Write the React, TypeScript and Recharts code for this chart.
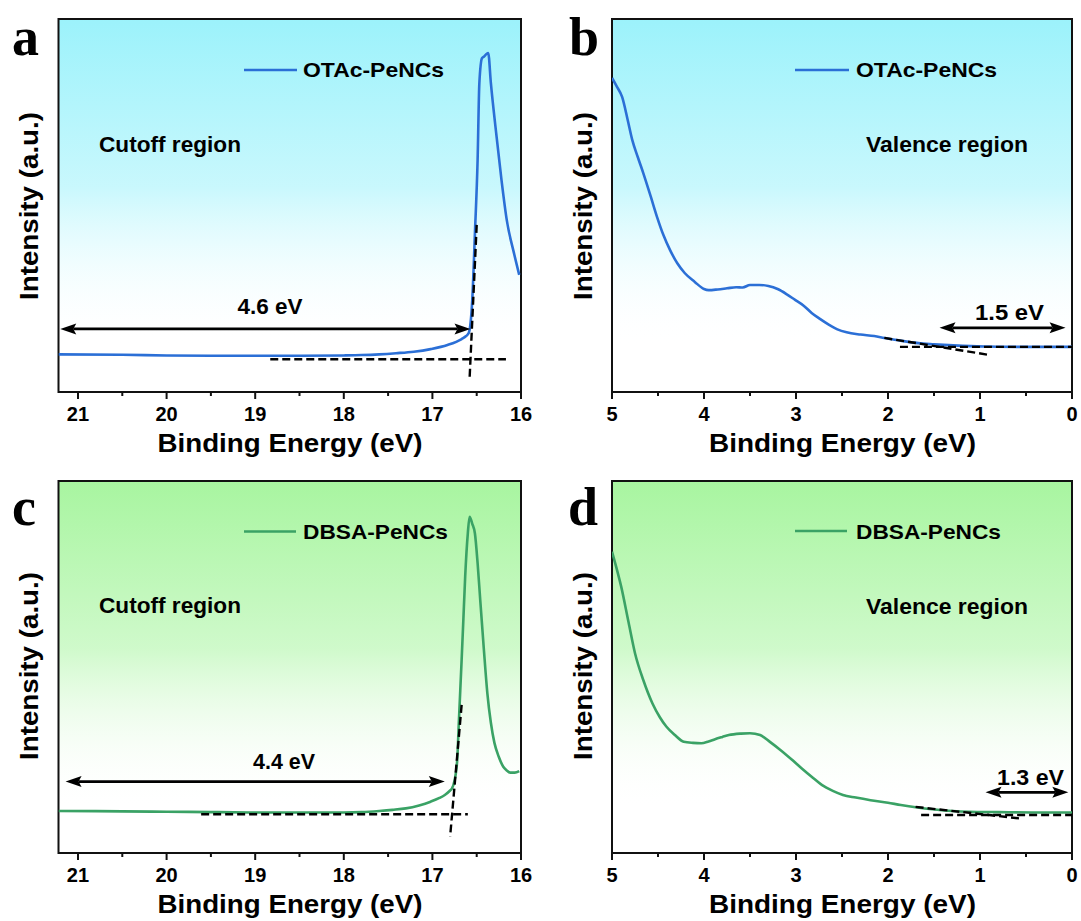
import React from 'react';
import { LineChart, Line, XAxis, YAxis, ReferenceArea, ReferenceLine } from 'recharts';

const BLUE = '#2b6fd6';
const GREEN = '#3aa265';
const CYAN_TOP = '#9cf2fb';
const GREEN_TOP = '#a8f5a0';
const SANS = '"Liberation Sans", Arial, Helvetica, sans-serif';
const SERIF = '"Liberation Serif", "Times New Roman", serif';

// ---------- axis ticks ----------
const cutoffTicks = [21, 20.5, 20, 19.5, 19, 18.5, 18, 17.5, 17, 16.5, 16];
const valenceTicks = [5, 4.5, 4, 3.5, 3, 2.5, 2, 1.5, 1, 0.5, 0];
const cutoffDomain = [16, 21.22];
const valenceDomain = [0, 5];

// ---------- panel a : OTAc-PeNCs cutoff ----------
const energyA = [21.22, 20.5, 20.0, 19.5, 19.0, 18.5, 18.0, 17.8, 17.6, 17.41, 17.21, 17.02, 16.83, 16.67, 16.62, 16.59, 16.55, 16.52, 16.49, 16.47, 16.44, 16.42, 16.39, 16.37, 16.34, 16.28, 16.22, 16.16, 16.08, 16.02];
const intensityA = [10.1, 10.0, 9.8, 9.7, 9.7, 9.7, 9.8, 9.9, 10.1, 10.4, 10.8, 11.5, 12.6, 14.2, 15.0, 15.8, 24.7, 42.6, 62.0, 82.8, 89.5, 89.9, 90.6, 90.9, 82.8, 69.4, 56.8, 46.0, 37.3, 31.4];

// ---------- panel b : OTAc-PeNCs valence ----------
const energyB = [5.0, 4.95, 4.89, 4.83, 4.78, 4.72, 4.66, 4.58, 4.51, 4.44, 4.37, 4.29, 4.21, 4.1, 4.0, 3.95, 3.85, 3.75, 3.65, 3.58, 3.5, 3.4, 3.3, 3.2, 3.1, 3.01, 2.92, 2.83, 2.74, 2.64, 2.55, 2.45, 2.3, 2.15, 2.04, 1.85, 1.67, 1.5, 1.29, 1.1, 0.9, 0.5, 0.0];
const intensityB = [84.2, 82.0, 79.1, 73.0, 67.6, 63.0, 58.7, 52.5, 46.9, 42.0, 38.1, 34.5, 31.9, 29.5, 27.6, 27.3, 27.5, 27.8, 28.1, 28.0, 28.7, 28.7, 28.4, 27.6, 26.2, 24.7, 23.2, 21.2, 19.6, 18.0, 16.8, 16.0, 15.4, 15.0, 14.5, 13.7, 13.1, 12.8, 12.5, 12.3, 12.2, 12.1, 12.1];

// ---------- panel c : DBSA-PeNCs cutoff ----------
const energyC = [21.22, 20.5, 20.0, 19.5, 19.0, 18.5, 18.0, 17.8, 17.6, 17.45, 17.3, 17.15, 17.02, 16.92, 16.86, 16.8, 16.78, 16.75, 16.72, 16.7, 16.67, 16.65, 16.63, 16.6, 16.58, 16.55, 16.52, 16.49, 16.46, 16.42, 16.38, 16.34, 16.3, 16.25, 16.2, 16.16, 16.12, 16.07, 16.02];
const intensityC = [11.3, 11.2, 11.1, 11.0, 10.9, 10.9, 10.9, 11.0, 11.3, 11.6, 12.0, 12.8, 13.8, 14.8, 15.6, 16.8, 17.3, 19.5, 25.0, 36.0, 51.9, 63.0, 74.3, 86.0, 90.4, 88.5, 85.9, 78.0, 68.0, 55.0, 43.0, 35.0, 29.6, 25.8, 23.2, 22.2, 21.6, 21.6, 22.0];

// ---------- panel d : DBSA-PeNCs valence ----------
const energyD = [5.0, 4.95, 4.9, 4.82, 4.75, 4.66, 4.56, 4.48, 4.41, 4.32, 4.22, 4.12, 4.03, 3.95, 3.88, 3.8, 3.73, 3.6, 3.5, 3.39, 3.28, 3.17, 3.05, 2.94, 2.83, 2.72, 2.6, 2.49, 2.35, 2.19, 2.0, 1.86, 1.7, 1.49, 1.3, 1.12, 0.8, 0.4, 0.0];
const intensityD = [81.0, 76.5, 71.6, 62.0, 53.7, 46.5, 40.2, 36.5, 34.0, 31.8, 29.9, 29.6, 29.5, 30.0, 30.6, 31.2, 31.7, 32.1, 32.2, 31.7, 29.8, 27.7, 25.2, 22.8, 20.5, 18.3, 16.7, 15.6, 14.9, 14.2, 13.5, 12.9, 12.3, 11.7, 11.3, 11.1, 11.0, 10.9, 10.9];

// ---------- guide lines (energy, intensity pairs) ----------
const baselineA = [[18.83, 8.8], [16.17, 8.8]];
const tangentA = [[16.5, 44.8], [16.58, 3.7]];
const arrowA = [[21.2, 16.9], [16.57, 16.9]];

const baselineB = [[1.87, 12.1], [0.0, 12.1]];
const tangentB = [[2.04, 14.5], [0.89, 9.9]];
const arrowB = [[1.44, 17.2], [0.07, 17.2]];

const baselineC = [[19.61, 10.4], [16.6, 10.4]];
const tangentC = [[16.67, 39.8], [16.8, 4.4]];
const arrowC = [[21.14, 19.2], [16.86, 19.2]];

const baselineD = [[1.64, 10.2], [0.0, 10.2]];
const tangentD = [[1.7, 12.4], [0.57, 9.3]];
const arrowD = [[0.94, 16.3], [0.04, 16.3]];

const toData = (xs: number[], ys: number[]) => xs.map((e, i) => ({ e, v: ys[i] }));
const seg = (p: number[][]) => [{ x: p[0][0], y: p[0][1] }, { x: p[1][0], y: p[1][1] }];

const TickMark = (props: any) => {
  const { x, y, payload } = props;
  const v = payload.value;
  const major = Math.abs(v - Math.round(v)) < 1e-6;
  return (
    <g>
      <line x1={x} x2={x} y1={y} y2={y + (major ? 7 : 4)} stroke="#111" strokeWidth={2} />
      {major && (
        <text x={x} y={y + 29} textAnchor="middle" fontSize={20} fontWeight="bold" fontFamily={SANS} fill="#000">
          {v}
        </text>
      )}
    </g>
  );
};

const DoubleArrow = (props: any) => {
  const { x1, y1, x2, y2 } = props;
  const head = 16;
  const hw = 5.5;
  const l = Math.min(x1, x2);
  const r = Math.max(x1, x2);
  const y = (y1 + y2) / 2;
  return (
    <g>
      <line x1={l + head - 3} y1={y} x2={r - head + 3} y2={y} stroke="#000" strokeWidth={2.8} />
      <polygon points={`${l},${y} ${l + head},${y - hw} ${l + head - 3},${y} ${l + head},${y + hw}`} fill="#000" />
      <polygon points={`${r},${y} ${r - head},${y - hw} ${r - head + 3},${y} ${r - head},${y + hw}`} fill="#000" />
    </g>
  );
};

type PanelProps = {
  left: number;
  top: number;
  width: number;
  height: number;
  margin: { top: number; right: number; bottom: number; left: number };
  domain: number[];
  ticks: number[];
  data: { e: number; v: number }[];
  color: string;
  gradId: string;
  gradTop: string;
  baseline: number[][];
  tangent: number[][];
  arrow: number[][];
  name: string;
};

function Panel(p: PanelProps) {
  return (
    <div style={{ position: 'absolute', left: p.left, top: p.top, width: p.width, height: p.height }}>
      <LineChart width={p.width} height={p.height} data={p.data} margin={p.margin}>
        <defs>
          <linearGradient id={p.gradId} x1="0" y1="0" x2="0" y2="1">
            <stop offset="0%" stopColor={p.gradTop} />
            <stop offset="45%" stopColor={p.gradTop} stopOpacity={0.55} />
            <stop offset="88%" stopColor="#ffffff" stopOpacity={0} />
          </linearGradient>
        </defs>
        <XAxis
          dataKey="e"
          type="number"
          domain={p.domain}
          reversed
          allowDataOverflow
          ticks={p.ticks}
          interval={0}
          tickSize={0}
          tickMargin={0}
          tickLine={false}
          axisLine={{ stroke: '#111', strokeWidth: 2 }}
          height={30}
          tick={<TickMark />}
        />
        <YAxis type="number" domain={[0, 100]} hide allowDataOverflow />
        <ReferenceArea
          x1={p.domain[0]}
          x2={p.domain[1]}
          y1={0}
          y2={100}
          fill={`url(#${p.gradId})`}
          fillOpacity={1}
          stroke="#111"
          strokeWidth={2}
          ifOverflow="visible"
        />
        <Line
          dataKey="v"
          name={p.name}
          type="monotone"
          stroke={p.color}
          strokeWidth={2.6}
          dot={false}
          activeDot={false}
          isAnimationActive={false}
        />
        <ReferenceLine segment={seg(p.baseline)} stroke="#000" strokeWidth={2.4} strokeDasharray="8 4" ifOverflow="visible" />
        <ReferenceLine segment={seg(p.tangent)} stroke="#000" strokeWidth={2.4} strokeDasharray="8 4" ifOverflow="visible" />
        <ReferenceLine segment={seg(p.arrow)} ifOverflow="visible" shape={DoubleArrow} />
      </LineChart>
    </div>
  );
}

const txt = { fontFamily: SANS, fontWeight: 'bold' as const, fill: '#000', lengthAdjust: 'spacingAndGlyphs' as const };

export default function App() {
  return (
    <div style={{ position: 'fixed', left: 0, top: 0, width: 1081, height: 921, background: '#ffffff', overflow: 'hidden' }}>
      <Panel
        left={0} top={0} width={540} height={460}
        margin={{ top: 19, right: 19, bottom: 38, left: 58.5 }}
        domain={cutoffDomain} ticks={cutoffTicks} data={toData(energyA, intensityA)}
        color={BLUE} gradId="gradA" gradTop={CYAN_TOP}
        baseline={baselineA} tangent={tangentA} arrow={arrowA} name="OTAc-PeNCs"
      />
      <Panel
        left={540} top={0} width={541} height={460}
        margin={{ top: 19, right: 9, bottom: 38, left: 72 }}
        domain={valenceDomain} ticks={valenceTicks} data={toData(energyB, intensityB)}
        color={BLUE} gradId="gradB" gradTop={CYAN_TOP}
        baseline={baselineB} tangent={tangentB} arrow={arrowB} name="OTAc-PeNCs"
      />
      <Panel
        left={0} top={460} width={540} height={461}
        margin={{ top: 21, right: 19, bottom: 38, left: 58.5 }}
        domain={cutoffDomain} ticks={cutoffTicks} data={toData(energyC, intensityC)}
        color={GREEN} gradId="gradC" gradTop={GREEN_TOP}
        baseline={baselineC} tangent={tangentC} arrow={arrowC} name="DBSA-PeNCs"
      />
      <Panel
        left={540} top={460} width={541} height={461}
        margin={{ top: 21, right: 9, bottom: 38, left: 72 }}
        domain={valenceDomain} ticks={valenceTicks} data={toData(energyD, intensityD)}
        color={GREEN} gradId="gradD" gradTop={GREEN_TOP}
        baseline={baselineD} tangent={tangentD} arrow={arrowD} name="DBSA-PeNCs"
      />
      <svg width={1081} height={921} style={{ position: 'absolute', left: 0, top: 0, pointerEvents: 'none' }}>
        {/* panel letters */}
        <text x={12} y={55} fontFamily={SERIF} fontWeight="bold" fontSize={54} fill="#000">a</text>
        <text x={569} y={55} fontFamily={SERIF} fontWeight="bold" fontSize={54} fill="#000">b</text>
        <text x={12} y={525} fontFamily={SERIF} fontWeight="bold" fontSize={54} fill="#000">c</text>
        <text x={568} y={525} fontFamily={SERIF} fontWeight="bold" fontSize={54} fill="#000">d</text>

        {/* legends */}
        <line x1={244} x2={297} y1={70} y2={70} stroke={BLUE} strokeWidth={2.6} />
        <text x={303} y={77} fontSize={21} textLength={141} {...txt}>OTAc-PeNCs</text>
        <line x1={795} x2={849} y1={70} y2={70} stroke={BLUE} strokeWidth={2.6} />
        <text x={856} y={77} fontSize={21} textLength={141} {...txt}>OTAc-PeNCs</text>
        <line x1={244} x2={296} y1={531.5} y2={531.5} stroke={GREEN} strokeWidth={2.6} />
        <text x={303} y={539} fontSize={21} textLength={145} {...txt}>DBSA-PeNCs</text>
        <line x1={795} x2={847} y1={531} y2={531} stroke={GREEN} strokeWidth={2.6} />
        <text x={856} y={539} fontSize={21} textLength={145} {...txt}>DBSA-PeNCs</text>

        {/* region labels */}
        <text x={99} y={152} fontSize={21.5} textLength={142} {...txt}>Cutoff region</text>
        <text x={866} y={152} fontSize={21.5} textLength={162} {...txt}>Valence region</text>
        <text x={99} y={613} fontSize={21.5} textLength={142} {...txt}>Cutoff region</text>
        <text x={866} y={614} fontSize={21.5} textLength={162} {...txt}>Valence region</text>

        {/* arrow labels */}
        <text x={237.5} y={314} fontSize={21.5} textLength={65} {...txt}>4.6 eV</text>
        <text x={975} y={320} fontSize={21.5} textLength={69} {...txt}>1.5 eV</text>
        <text x={253} y={769} fontSize={21.5} textLength={62} {...txt}>4.4 eV</text>
        <text x={997} y={785} fontSize={21.5} textLength={67} {...txt}>1.3 eV</text>

        {/* axis titles */}
        <text x={157.5} y={452} fontSize={26} textLength={265} {...txt}>Binding Energy (eV)</text>
        <text x={709} y={452} fontSize={26} textLength={267} {...txt}>Binding Energy (eV)</text>
        <text x={157.5} y={913} fontSize={26} textLength={265} {...txt}>Binding Energy (eV)</text>
        <text x={709} y={913} fontSize={26} textLength={267} {...txt}>Binding Energy (eV)</text>

        <text x={38} y={300} fontSize={26.5} textLength={188} transform="rotate(-90 38 300)" {...txt}>Intensity (a.u.)</text>
        <text x={592} y={300} fontSize={26.5} textLength={188} transform="rotate(-90 592 300)" {...txt}>Intensity (a.u.)</text>
        <text x={38} y={760} fontSize={26.5} textLength={188} transform="rotate(-90 38 760)" {...txt}>Intensity (a.u.)</text>
        <text x={592} y={760} fontSize={26.5} textLength={188} transform="rotate(-90 592 760)" {...txt}>Intensity (a.u.)</text>
      </svg>
    </div>
  );
}
